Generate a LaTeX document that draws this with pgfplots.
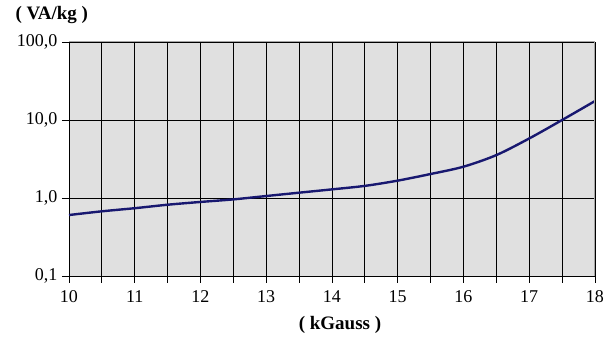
\documentclass[border=0pt]{standalone}
\usepackage{fontspec}
\setmainfont{Liberation Serif}
\usepackage{pgfplots}
\pgfplotsset{compat=1.18}
\definecolor{bgc}{RGB}{224,224,224}
\definecolor{curvec}{RGB}{24,24,112}
\begin{document}
\begin{tikzpicture}[x=1pt,y=1pt]
\begin{axis}[
 at={(0,0)}, anchor=south west,
 scale only axis, width=526pt, height=234pt,
 xmin=10, xmax=18, ymin=0.1, ymax=100, ymode=log,
 axis background/.style={fill=bgc},
 axis x line*=bottom, axis y line*=left,
 axis line style={black, line width=0.9pt, -},
 xtick={10,...,18}, minor xtick={10.5,11.5,...,17.5},
 ytick={0.1,1,10,100}, yticklabels={{0,1},{1,0},{10,0},{100,0}},
 yminorticks=false,
 xmajorgrids=true, xminorgrids=true, ymajorgrids=true, yminorgrids=false,
 major grid style={black, line width=0.9pt},
 minor grid style={black, line width=0.9pt},
 tick style={black, line width=0.9pt},
 tick align=outside, major tick length=7pt, minor tick length=7pt,
 tick label style={font=\fontsize{18}{18}\selectfont},
 /pgf/number format/assume math mode=true,
 xticklabel style={yshift=-4pt},
 yticklabel style={xshift=-1pt},
]
\addplot[curvec, line width=2.4pt, smooth] coordinates {
(10,0.605) (10.5,0.675) (11,0.74) (11.5,0.82) (12,0.89) (12.5,0.96)
(13,1.06) (13.5,1.17) (14,1.29) (14.5,1.43) (15,1.67) (15.5,2.03)
(16,2.52) (16.5,3.55) (17,5.8) (17.5,10) (18,17.5)};
\draw[gray!70, line width=1pt] (rel axis cs:0,1) -- (rel axis cs:1,1) -- (rel axis cs:1,0);
\end{axis}
\node[anchor=west, font=\bfseries\fontsize{19}{19}\selectfont] at (-57,261) {( VA/kg )};
\node[font=\bfseries\fontsize{19}{19}\selectfont] at (271,-49) {( kGauss )};
\pgfresetboundingbox
\useasboundingbox (-69,-66) rectangle (537,276);
\end{tikzpicture}
\end{document}
